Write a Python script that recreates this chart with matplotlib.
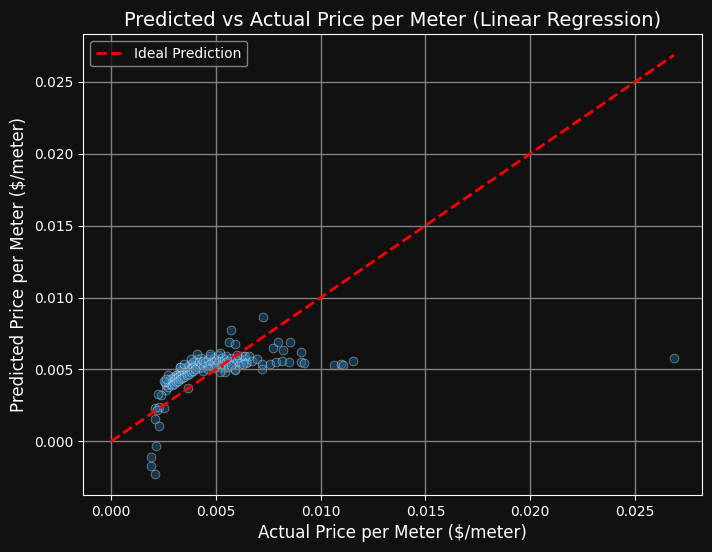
import numpy as np
import matplotlib.pyplot as plt

# actual vs predicted price per meter (values in 1e-3 $/meter)
actual = np.array([
    2.6, 2.6, 2.7, 2.7, 2.8, 2.8, 2.9, 2.9, 3.0, 3.0, 3.1, 3.1, 3.2, 3.2,
    3.3, 3.3, 3.4, 3.4, 3.5, 3.5, 3.6, 3.6, 3.7, 3.7, 3.8, 3.8, 3.9, 3.9,
    4.0, 4.0, 4.1, 4.1, 4.2, 4.2, 4.3, 4.3, 4.4, 4.4, 4.5, 4.6, 4.6, 4.7,
    4.7, 4.8, 4.8, 4.9, 4.9, 5.0, 5.0, 5.1, 5.1, 5.2, 5.3, 5.3, 5.4, 5.4,
    5.5, 5.5, 5.6, 5.6, 5.7, 5.8, 5.9, 5.9, 6.0, 6.1, 6.1, 6.2, 6.3, 6.4,
    6.5, 3.67, 2.37, 2.57, 2.73, 3.29, 4.08, 4.71, 5.19, 6.41, 6.46, 5.44,
    5.90,
    2.5, 2.6, 2.9, 3.0, 3.1, 3.2, 3.3, 3.4, 3.5, 3.6, 3.7, 3.8, 3.9, 4.0,
    3.3, 3.5, 3.8, 4.4, 4.6, 4.9, 5.2, 5.7, 6.3, 6.6, 6.7, 6.0, 5.2, 2.25,
    2.1, 2.3, 2.5, 2.2, 2.11, 2.30, 2.16, 1.89, 1.92, 2.11,
    7.24, 5.73, 5.62, 5.90, 7.97, 8.52, 7.71, 8.19, 9.05, 6.95, 7.20, 7.20,
    7.57, 7.86, 8.14, 8.49, 9.06, 9.19, 10.63, 10.95, 11.06, 11.54, 26.86,
]) / 1000
predicted = np.array([
    3.6, 3.9, 4.1, 3.8, 4.3, 4.0, 4.4, 4.2, 4.5, 4.3, 4.6, 4.4, 4.7, 4.5,
    4.9, 4.6, 5.0, 4.7, 5.1, 4.8, 5.2, 4.9, 5.3, 5.0, 5.4, 5.1, 5.5, 5.2,
    5.6, 5.3, 5.7, 5.2, 5.5, 5.1, 5.8, 5.4, 5.6, 5.2, 5.5, 5.7, 5.3, 5.9,
    5.4, 5.6, 5.2, 5.8, 5.5, 5.7, 5.3, 6.0, 5.5, 5.6, 5.8, 5.4, 5.7, 5.1,
    5.9, 5.5, 5.6, 5.2, 5.8, 5.4, 5.7, 5.0, 5.6, 5.8, 5.3, 5.5, 5.9, 5.7,
    5.5, 3.73, 3.24, 4.10, 4.58, 5.16, 6.04, 6.04, 6.13, 5.90, 5.44, 4.81,
    4.98,
    4.2, 4.3, 3.9, 4.0, 4.1, 4.2, 4.3, 4.4, 4.5, 4.6, 4.7, 4.8, 4.9, 5.0,
    5.2, 5.4, 5.7, 4.9, 5.0, 5.1, 5.2, 5.3, 5.4, 5.9, 5.6, 6.0, 4.8, 3.3,
    2.3, 2.4, 2.3, 2.2, 1.53, 1.09, -0.30, -1.09, -1.69, -2.29,
    8.68, 7.71, 6.88, 6.80, 6.88, 6.94, 6.50, 6.32, 6.18, 5.69, 5.40, 5.05,
    5.40, 5.53, 5.56, 5.49, 5.51, 5.44, 5.30, 5.40, 5.28, 5.56, 5.80,
]) / 1000

plt.style.use('dark_background')
fig, ax = plt.subplots(figsize=(7.12, 5.52), dpi=100)
fig.patch.set_facecolor('#111111')
ax.set_facecolor('#111111')

ax.scatter(actual, predicted, s=40, color='#1f77b4', alpha=0.4,
           edgecolors='white', linewidths=0.6)
lim = max(actual.max(), predicted.max())
ax.plot([0, lim], [0, lim], 'r--', lw=2, label='Ideal Prediction')

ax.set_title('Predicted vs Actual Price per Meter (Linear Regression)', fontsize=14)
ax.set_xlabel('Actual Price per Meter ($/meter)', fontsize=12)
ax.set_ylabel('Predicted Price per Meter ($/meter)', fontsize=12)
ax.grid(True, color='#808080', linewidth=1)
ax.legend(loc='upper left', facecolor='#111111', edgecolor='#999999')

fig.subplots_adjust(left=0.1166, right=0.986, top=0.938, bottom=0.103)
fig.savefig('out.png', facecolor=fig.get_facecolor())
